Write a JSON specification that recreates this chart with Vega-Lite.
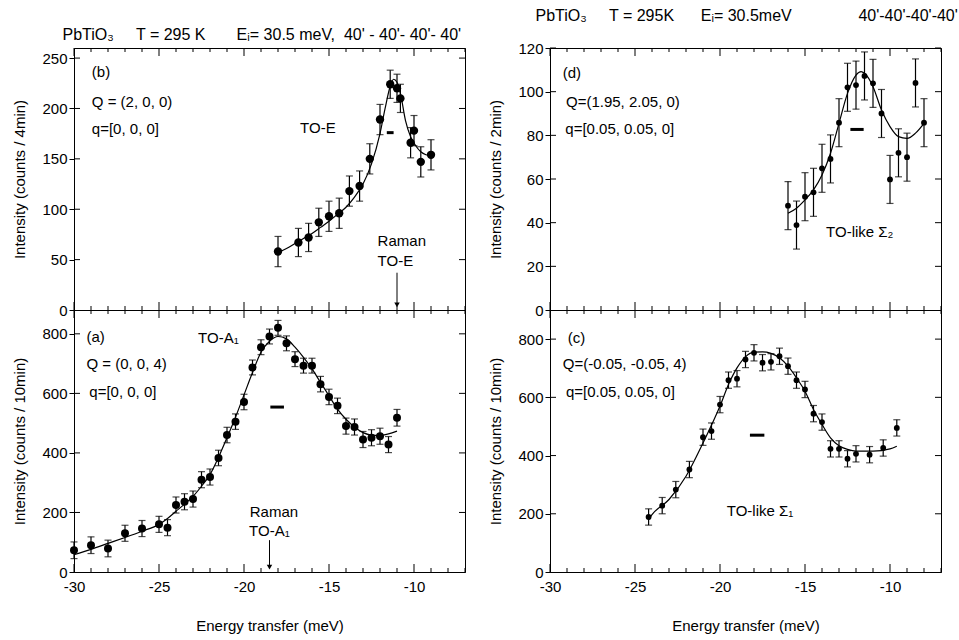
{
  "$schema": "https://vega.github.io/schema/vega-lite/v6.json",
  "background": "white",
  "padding": {"left": 12, "top": 8, "right": 0, "bottom": 0},
  "config": {
    "font": "Liberation Sans",
    "view": {"stroke": "black", "strokeWidth": 1},
    "axis": {"grid": false, "domainColor": "black", "tickColor": "black", "labelColor": "black", "titleColor": "black", "labelFont": "Liberation Sans", "titleFont": "Liberation Sans", "labelFontSize": 15, "titleFontSize": 15, "titleFontWeight": "normal", "domainWidth": 1, "tickWidth": 1, "labelFlush": false},
    "title": {"font": "Liberation Sans", "fontSize": 16, "fontWeight": "normal", "color": "black"},
    "text": {"font": "Liberation Sans", "fontSize": 15, "color": "black"}
  },
  "datasets": {
    "b_pts": [
      {"E": -18.0, "I": 58, "err": 15}, {"E": -16.8, "I": 67, "err": 14}, {"E": -16.2, "I": 72, "err": 14},
      {"E": -15.6, "I": 87, "err": 14}, {"E": -15.0, "I": 93, "err": 15}, {"E": -14.4, "I": 96, "err": 15},
      {"E": -13.8, "I": 118, "err": 15}, {"E": -13.2, "I": 123, "err": 15}, {"E": -12.6, "I": 150, "err": 15},
      {"E": -12.0, "I": 189, "err": 15}, {"E": -11.4, "I": 224, "err": 14}, {"E": -11.0, "I": 220, "err": 14},
      {"E": -10.8, "I": 210, "err": 14}, {"E": -10.2, "I": 166, "err": 15}, {"E": -10.0, "I": 178, "err": 15},
      {"E": -9.6, "I": 147, "err": 15}, {"E": -9.0, "I": 154, "err": 15}
    ],
    "b_fit": [
      {"E": -18.0, "I": 57}, {"E": -17.5, "I": 61}, {"E": -17.0, "I": 66}, {"E": -16.5, "I": 71}, {"E": -16.0, "I": 76},
      {"E": -15.5, "I": 82}, {"E": -15.0, "I": 88}, {"E": -14.5, "I": 95}, {"E": -14.0, "I": 102}, {"E": -13.5, "I": 112},
      {"E": -13.0, "I": 125}, {"E": -12.5, "I": 145}, {"E": -12.0, "I": 175}, {"E": -11.7, "I": 200}, {"E": -11.4, "I": 222},
      {"E": -11.2, "I": 229}, {"E": -11.0, "I": 226}, {"E": -10.8, "I": 215}, {"E": -10.5, "I": 188}, {"E": -10.2, "I": 172},
      {"E": -9.9, "I": 163}, {"E": -9.6, "I": 157}, {"E": -9.3, "I": 154}, {"E": -9.0, "I": 153}
    ],
    "a_pts": [
      {"E": -30.0, "I": 73, "err": 28}, {"E": -29.0, "I": 90, "err": 28}, {"E": -28.0, "I": 79, "err": 28},
      {"E": -27.0, "I": 130, "err": 27}, {"E": -26.0, "I": 146, "err": 27}, {"E": -25.0, "I": 160, "err": 27},
      {"E": -24.5, "I": 149, "err": 27}, {"E": -24.0, "I": 225, "err": 27}, {"E": -23.5, "I": 236, "err": 27},
      {"E": -23.0, "I": 245, "err": 27}, {"E": -22.5, "I": 310, "err": 27}, {"E": -22.0, "I": 319, "err": 27},
      {"E": -21.5, "I": 383, "err": 26}, {"E": -21.0, "I": 460, "err": 26}, {"E": -20.5, "I": 505, "err": 26},
      {"E": -20.0, "I": 571, "err": 26}, {"E": -19.5, "I": 687, "err": 25}, {"E": -19.0, "I": 755, "err": 25},
      {"E": -18.5, "I": 791, "err": 25}, {"E": -18.0, "I": 820, "err": 25}, {"E": -17.5, "I": 768, "err": 25},
      {"E": -17.0, "I": 715, "err": 25}, {"E": -16.5, "I": 693, "err": 25}, {"E": -16.0, "I": 693, "err": 25},
      {"E": -15.5, "I": 631, "err": 26}, {"E": -15.0, "I": 588, "err": 26}, {"E": -14.5, "I": 558, "err": 26},
      {"E": -14.0, "I": 490, "err": 27}, {"E": -13.5, "I": 487, "err": 27}, {"E": -13.0, "I": 445, "err": 27},
      {"E": -12.5, "I": 451, "err": 27}, {"E": -12.0, "I": 456, "err": 27}, {"E": -11.5, "I": 428, "err": 27},
      {"E": -11.0, "I": 518, "err": 28}
    ],
    "a_fit": [
      {"E": -30, "I": 58}, {"E": -29, "I": 76}, {"E": -28, "I": 96}, {"E": -27, "I": 116}, {"E": -26, "I": 137},
      {"E": -25, "I": 160}, {"E": -24.5, "I": 180}, {"E": -24, "I": 204}, {"E": -23.5, "I": 228}, {"E": -23, "I": 254},
      {"E": -22.5, "I": 288}, {"E": -22, "I": 327}, {"E": -21.5, "I": 385}, {"E": -21, "I": 451}, {"E": -20.5, "I": 520},
      {"E": -20, "I": 595}, {"E": -19.5, "I": 670}, {"E": -19, "I": 738}, {"E": -18.5, "I": 775}, {"E": -18, "I": 791},
      {"E": -17.5, "I": 783}, {"E": -17, "I": 755}, {"E": -16.5, "I": 721}, {"E": -16, "I": 682}, {"E": -15.5, "I": 637},
      {"E": -15, "I": 592}, {"E": -14.5, "I": 547}, {"E": -14, "I": 513}, {"E": -13.5, "I": 487}, {"E": -13, "I": 468},
      {"E": -12.5, "I": 460}, {"E": -12, "I": 459}, {"E": -11.5, "I": 464}, {"E": -11, "I": 473}
    ],
    "d_pts": [
      {"E": -16.0, "I": 47.8, "err": 11}, {"E": -15.5, "I": 38.9, "err": 11}, {"E": -15.0, "I": 51.9, "err": 11},
      {"E": -14.5, "I": 53.9, "err": 11}, {"E": -14.0, "I": 64.9, "err": 11}, {"E": -13.5, "I": 69.2, "err": 11},
      {"E": -13.0, "I": 85.8, "err": 11}, {"E": -12.5, "I": 102.0, "err": 11}, {"E": -12.0, "I": 103.0, "err": 11},
      {"E": -11.5, "I": 107.2, "err": 11}, {"E": -11.0, "I": 103.8, "err": 11}, {"E": -10.5, "I": 90.0, "err": 11},
      {"E": -10.0, "I": 59.8, "err": 11}, {"E": -9.5, "I": 72.0, "err": 11}, {"E": -9.0, "I": 70.0, "err": 11},
      {"E": -8.5, "I": 104.0, "err": 11}, {"E": -8.0, "I": 85.8, "err": 11}
    ],
    "d_fit": [
      {"E": -16.0, "I": 44.3}, {"E": -15.5, "I": 46.6}, {"E": -15.0, "I": 50.4}, {"E": -14.5, "I": 55.0}, {"E": -14.0, "I": 61.8},
      {"E": -13.5, "I": 71.8}, {"E": -13.0, "I": 85.5}, {"E": -12.5, "I": 99.2}, {"E": -12.0, "I": 107.6}, {"E": -11.7, "I": 109.2},
      {"E": -11.5, "I": 108.4}, {"E": -11.0, "I": 102.3}, {"E": -10.5, "I": 91.6}, {"E": -10.0, "I": 84.0}, {"E": -9.5, "I": 79.4},
      {"E": -9.0, "I": 78.6}, {"E": -8.5, "I": 81.0}, {"E": -8.0, "I": 85.5}
    ],
    "c_pts": [
      {"E": -24.2, "I": 189, "err": 28}, {"E": -23.4, "I": 228, "err": 28}, {"E": -22.6, "I": 283, "err": 28},
      {"E": -21.8, "I": 352, "err": 28}, {"E": -21.0, "I": 463, "err": 28}, {"E": -20.5, "I": 484, "err": 28},
      {"E": -20.0, "I": 575, "err": 28}, {"E": -19.5, "I": 659, "err": 28}, {"E": -19.0, "I": 664, "err": 28},
      {"E": -18.5, "I": 730, "err": 28}, {"E": -18.0, "I": 753, "err": 28}, {"E": -17.5, "I": 719, "err": 28},
      {"E": -17.0, "I": 722, "err": 28}, {"E": -16.5, "I": 741, "err": 28}, {"E": -16.0, "I": 707, "err": 28},
      {"E": -15.5, "I": 659, "err": 28}, {"E": -15.0, "I": 627, "err": 28}, {"E": -14.5, "I": 544, "err": 28},
      {"E": -14.0, "I": 515, "err": 28}, {"E": -13.5, "I": 423, "err": 28}, {"E": -13.0, "I": 423, "err": 28},
      {"E": -12.5, "I": 389, "err": 28}, {"E": -12.0, "I": 406, "err": 28}, {"E": -11.2, "I": 403, "err": 28},
      {"E": -10.4, "I": 426, "err": 28}, {"E": -9.6, "I": 495, "err": 28}
    ],
    "c_fit": [
      {"E": -24.2, "I": 180}, {"E": -24.0, "I": 197}, {"E": -23.0, "I": 249}, {"E": -22.0, "I": 329}, {"E": -21.0, "I": 443},
      {"E": -20.0, "I": 570}, {"E": -19.5, "I": 644}, {"E": -19.0, "I": 701}, {"E": -18.5, "I": 739}, {"E": -18.0, "I": 755},
      {"E": -17.5, "I": 756}, {"E": -17.0, "I": 751}, {"E": -16.5, "I": 736}, {"E": -16.0, "I": 707}, {"E": -15.5, "I": 667},
      {"E": -15.0, "I": 621}, {"E": -14.5, "I": 558}, {"E": -14.0, "I": 507}, {"E": -13.5, "I": 461}, {"E": -13.0, "I": 434},
      {"E": -12.5, "I": 421}, {"E": -12.0, "I": 415}, {"E": -11.0, "I": 415}, {"E": -10.0, "I": 423}, {"E": -9.6, "I": 432}
    ],
    "res": [
      {"panel": "b", "x1": -11.6, "x2": -11.2, "I": 176},
      {"panel": "a", "x1": -18.45, "x2": -17.65, "I": 554},
      {"panel": "d", "x1": -12.33, "x2": -11.55, "I": 82.7},
      {"panel": "c", "x1": -18.24, "x2": -17.39, "I": 470}
    ],
    "notes": [
      {"panel": "b", "E": -28.95, "I": 236, "label": "(b)"},
      {"panel": "b", "E": -28.95, "I": 206, "label": "Q = (2, 0, 0)"},
      {"panel": "b", "E": -28.95, "I": 180, "label": "q=[0, 0, 0]"},
      {"panel": "b", "E": -16.7, "I": 181, "label": "TO-E"},
      {"panel": "b", "E": -12.14, "I": 68, "label": "Raman"},
      {"panel": "b", "E": -12.14, "I": 49, "label": "TO-E"},
      {"panel": "a", "E": -29.27, "I": 789, "label": "(a)"},
      {"panel": "a", "E": -22.7, "I": 786, "label": "TO-A\u2081"},
      {"panel": "a", "E": -29.27, "I": 698, "label": "Q = (0, 0, 4)"},
      {"panel": "a", "E": -29.1, "I": 603, "label": "q=[0, 0, 0]"},
      {"panel": "a", "E": -19.66, "I": 200, "label": "Raman"},
      {"panel": "a", "E": -19.7, "I": 139, "label": "TO-A\u2081"},
      {"panel": "d", "E": -29.25, "I": 108.4, "label": "(d)"},
      {"panel": "d", "E": -29.06, "I": 95.4, "label": "Q=(1.95, 2.05, 0)"},
      {"panel": "d", "E": -29.1, "I": 82.7, "label": "q=[0.05, 0.05, 0]"},
      {"panel": "d", "E": -13.76, "I": 35.9, "label": "TO-like \u03a3\u2082"},
      {"panel": "c", "E": -28.96, "I": 804, "label": "(c)"},
      {"panel": "c", "E": -29.25, "I": 713, "label": "Q=(-0.05, -0.05, 4)"},
      {"panel": "c", "E": -29.06, "I": 619, "label": "q=[0.05, 0.05, 0]"},
      {"panel": "c", "E": -19.6, "I": 209, "label": "TO-like \u03a3\u2081"}
    ],
    "arrows": [
      {"panel": "b", "E": -11.0, "top": 37, "tip": 5},
      {"panel": "a", "E": -18.5, "top": 107, "tip": 16}
    ],
    "xticks": [
      {"E": -30}, {"E": -29}, {"E": -28}, {"E": -27}, {"E": -26}, {"E": -25}, {"E": -24}, {"E": -23},
      {"E": -22}, {"E": -21}, {"E": -20}, {"E": -19}, {"E": -18}, {"E": -17}, {"E": -16}, {"E": -15},
      {"E": -14}, {"E": -13}, {"E": -12}, {"E": -11}, {"E": -10}, {"E": -9}, {"E": -8}, {"E": -7}
    ],
    "yticks": [
      {"panel": "b", "I": 50}, {"panel": "b", "I": 100}, {"panel": "b", "I": 150}, {"panel": "b", "I": 200}, {"panel": "b", "I": 250},
      {"panel": "a", "I": 200}, {"panel": "a", "I": 400}, {"panel": "a", "I": 600}, {"panel": "a", "I": 800},
      {"panel": "d", "I": 20}, {"panel": "d", "I": 40}, {"panel": "d", "I": 60}, {"panel": "d", "I": 80}, {"panel": "d", "I": 100}, {"panel": "d", "I": 120},
      {"panel": "c", "I": 200}, {"panel": "c", "I": 400}, {"panel": "c", "I": 600}, {"panel": "c", "I": 800}
    ]
  },
  "spacing": 22,
  "hconcat": [
    {
      "title": {"text": ["\u00a0", "PbTiO\u2083\u00a0\u00a0\u00a0\u00a0\u00a0T = 295 K\u00a0\u00a0\u00a0\u00a0\u00a0\u00a0\u00a0E\u1d62= 30.5 meV,\u00a0\u00a040' - 40'- 40'- 40'"], "anchor": "start", "frame": "bounds", "dx": 50, "offset": 5, "lineHeight": 11.4},
      "spacing": 0,
      "bounds": "flush",
      "vconcat": [
        {
          "width": 391, "height": 262,
          "layer": [
            {"data": {"name": "xticks"}, "transform": [{"filter": "datum.E % 5 === 0"}], "mark": {"type": "tick", "orient": "vertical", "size": 8, "thickness": 1, "color": "black", "opacity": 1, "yOffset": -4},
             "encoding": {"x": {"field": "E", "type": "quantitative", "scale": {"domain": [-30, -7], "nice": false, "zero": false}, "axis": null},
                          "y": {"datum": 0, "type": "quantitative", "title": "Intensity (counts / 4min)", "scale": {"domain": [0, 260], "nice": false, "zero": false}}}},
            {"data": {"name": "xticks"}, "transform": [{"filter": "datum.E % 5 !== 0"}], "mark": {"type": "tick", "orient": "vertical", "size": 4, "thickness": 1, "color": "black", "opacity": 1, "yOffset": -2},
             "encoding": {"x": {"field": "E", "type": "quantitative", "scale": {"domain": [-30, -7], "nice": false, "zero": false}, "axis": null},
                          "y": {"datum": 0, "type": "quantitative", "title": "Intensity (counts / 4min)", "scale": {"domain": [0, 260], "nice": false, "zero": false}}}},
            {"data": {"name": "xticks"}, "transform": [{"filter": "datum.E % 5 === 0"}], "mark": {"type": "tick", "orient": "vertical", "size": 8, "thickness": 1, "color": "black", "opacity": 1, "yOffset": 4},
             "encoding": {"x": {"field": "E", "type": "quantitative", "scale": {"domain": [-30, -7], "nice": false, "zero": false}, "axis": null},
                          "y": {"datum": 260, "type": "quantitative", "title": "Intensity (counts / 4min)", "scale": {"domain": [0, 260], "nice": false, "zero": false}}}},
            {"data": {"name": "xticks"}, "transform": [{"filter": "datum.E % 5 !== 0"}], "mark": {"type": "tick", "orient": "vertical", "size": 4, "thickness": 1, "color": "black", "opacity": 1, "yOffset": 2},
             "encoding": {"x": {"field": "E", "type": "quantitative", "scale": {"domain": [-30, -7], "nice": false, "zero": false}, "axis": null},
                          "y": {"datum": 260, "type": "quantitative", "title": "Intensity (counts / 4min)", "scale": {"domain": [0, 260], "nice": false, "zero": false}}}},
            {"data": {"name": "yticks"}, "transform": [{"filter": "datum.panel === 'b'"}], "mark": {"type": "tick", "orient": "horizontal", "size": 6, "thickness": 1, "color": "black", "opacity": 1, "xOffset": -3},
             "encoding": {"x": {"datum": -7, "type": "quantitative", "scale": {"domain": [-30, -7], "nice": false, "zero": false}, "axis": null},
                          "y": {"field": "I", "type": "quantitative", "title": "Intensity (counts / 4min)", "scale": {"domain": [0, 260], "nice": false, "zero": false}}}},
            {"data": {"name": "yticks"}, "transform": [{"filter": "datum.panel === 'b'"}], "mark": {"type": "tick", "orient": "horizontal", "size": 6, "thickness": 1, "color": "black", "opacity": 1, "xOffset": 3},
             "encoding": {"x": {"datum": -30, "type": "quantitative", "scale": {"domain": [-30, -7], "nice": false, "zero": false}, "axis": null},
                          "y": {"field": "I", "type": "quantitative", "title": "Intensity (counts / 4min)", "scale": {"domain": [0, 260], "nice": false, "zero": false}}}},
            {"data": {"name": "b_pts"}, "mark": {"type": "circle", "size": 70, "color": "black", "opacity": 1},
             "encoding": {"x": {"field": "E", "type": "quantitative", "scale": {"domain": [-30, -7], "nice": false, "zero": false}, "axis": null},
                          "y": {"field": "I", "type": "quantitative", "title": "Intensity (counts / 4min)", "scale": {"domain": [0, 260], "nice": false, "zero": false},
                                "axis": {"orient": "left", "values": [0, 50, 100, 150, 200, 250], "title": "Intensity (counts / 4min)", "tickSize": 5, "labelPadding": 2, "titlePadding": 14}}}},
            {"data": {"name": "b_pts"}, "mark": {"type": "errorbar", "ticks": {"size": 7}, "color": "black", "thickness": 1.2},
             "encoding": {"x": {"field": "E", "type": "quantitative", "axis": null},
                          "y": {"field": "I", "type": "quantitative", "title": "Intensity (counts / 4min)"},
                          "yError": {"field": "err"}}},
            {"data": {"name": "b_fit"}, "mark": {"type": "line", "color": "black", "strokeWidth": 1.2, "interpolate": "monotone"},
             "encoding": {"x": {"field": "E", "type": "quantitative", "axis": null},
                          "y": {"field": "I", "type": "quantitative", "title": "Intensity (counts / 4min)"}}},
            {"data": {"name": "res"}, "transform": [{"filter": "datum.panel === 'b'"}], "mark": {"type": "rule", "color": "black", "strokeWidth": 3},
             "encoding": {"x": {"field": "x1", "type": "quantitative", "axis": null},
                          "x2": {"field": "x2"},
                          "y": {"field": "I", "type": "quantitative", "title": "Intensity (counts / 4min)"}}},
            {"data": {"name": "notes"}, "transform": [{"filter": "datum.panel === 'b'"}], "mark": {"type": "text", "align": "left", "baseline": "middle", "fontSize": 15},
             "encoding": {"x": {"field": "E", "type": "quantitative", "axis": null},
                          "y": {"field": "I", "type": "quantitative", "title": "Intensity (counts / 4min)"},
                          "text": {"field": "label"}}},
            {"data": {"name": "arrows"}, "transform": [{"filter": "datum.panel === 'b'"}], "mark": {"type": "rule", "color": "black", "strokeWidth": 1},
             "encoding": {"x": {"field": "E", "type": "quantitative", "axis": null},
                          "y": {"field": "top", "type": "quantitative", "title": "Intensity (counts / 4min)"},
                          "y2": {"field": "tip"}}},
            {"data": {"name": "arrows"}, "transform": [{"filter": "datum.panel === 'b'"}], "mark": {"type": "point", "shape": "triangle-down", "filled": true, "size": 30, "color": "black", "opacity": 1},
             "encoding": {"x": {"field": "E", "type": "quantitative", "axis": null},
                          "y": {"field": "tip", "type": "quantitative", "title": "Intensity (counts / 4min)"}}}
          ]
        },
        {
          "width": 391, "height": 262,
          "layer": [
            {"data": {"name": "xticks"}, "transform": [{"filter": "datum.E % 5 === 0"}], "mark": {"type": "tick", "orient": "vertical", "size": 8, "thickness": 1, "color": "black", "opacity": 1, "yOffset": -4},
             "encoding": {"x": {"field": "E", "type": "quantitative", "title": "Energy transfer (meV)", "scale": {"domain": [-30, -7], "nice": false, "zero": false}},
                          "y": {"datum": 0, "type": "quantitative", "title": "Intensity (counts / 10min)", "scale": {"domain": [0, 880], "nice": false, "zero": false}}}},
            {"data": {"name": "xticks"}, "transform": [{"filter": "datum.E % 5 !== 0"}], "mark": {"type": "tick", "orient": "vertical", "size": 4, "thickness": 1, "color": "black", "opacity": 1, "yOffset": -2},
             "encoding": {"x": {"field": "E", "type": "quantitative", "title": "Energy transfer (meV)", "scale": {"domain": [-30, -7], "nice": false, "zero": false}},
                          "y": {"datum": 0, "type": "quantitative", "title": "Intensity (counts / 10min)", "scale": {"domain": [0, 880], "nice": false, "zero": false}}}},
            {"data": {"name": "xticks"}, "transform": [{"filter": "datum.E % 5 === 0"}], "mark": {"type": "tick", "orient": "vertical", "size": 8, "thickness": 1, "color": "black", "opacity": 1, "yOffset": 4},
             "encoding": {"x": {"field": "E", "type": "quantitative", "title": "Energy transfer (meV)", "scale": {"domain": [-30, -7], "nice": false, "zero": false}},
                          "y": {"datum": 880, "type": "quantitative", "title": "Intensity (counts / 10min)", "scale": {"domain": [0, 880], "nice": false, "zero": false}}}},
            {"data": {"name": "xticks"}, "transform": [{"filter": "datum.E % 5 !== 0"}], "mark": {"type": "tick", "orient": "vertical", "size": 4, "thickness": 1, "color": "black", "opacity": 1, "yOffset": 2},
             "encoding": {"x": {"field": "E", "type": "quantitative", "title": "Energy transfer (meV)", "scale": {"domain": [-30, -7], "nice": false, "zero": false}},
                          "y": {"datum": 880, "type": "quantitative", "title": "Intensity (counts / 10min)", "scale": {"domain": [0, 880], "nice": false, "zero": false}}}},
            {"data": {"name": "yticks"}, "transform": [{"filter": "datum.panel === 'a'"}], "mark": {"type": "tick", "orient": "horizontal", "size": 6, "thickness": 1, "color": "black", "opacity": 1, "xOffset": -3},
             "encoding": {"x": {"datum": -7, "type": "quantitative", "title": "Energy transfer (meV)", "scale": {"domain": [-30, -7], "nice": false, "zero": false}},
                          "y": {"field": "I", "type": "quantitative", "title": "Intensity (counts / 10min)", "scale": {"domain": [0, 880], "nice": false, "zero": false}}}},
            {"data": {"name": "yticks"}, "transform": [{"filter": "datum.panel === 'a'"}], "mark": {"type": "tick", "orient": "horizontal", "size": 6, "thickness": 1, "color": "black", "opacity": 1, "xOffset": 3},
             "encoding": {"x": {"datum": -30, "type": "quantitative", "title": "Energy transfer (meV)", "scale": {"domain": [-30, -7], "nice": false, "zero": false}},
                          "y": {"field": "I", "type": "quantitative", "title": "Intensity (counts / 10min)", "scale": {"domain": [0, 880], "nice": false, "zero": false}}}},
            {"data": {"name": "a_pts"}, "mark": {"type": "circle", "size": 64, "color": "black", "opacity": 1},
             "encoding": {"x": {"field": "E", "type": "quantitative", "title": "Energy transfer (meV)", "scale": {"domain": [-30, -7], "nice": false, "zero": false},
                                "axis": {"orient": "bottom", "values": [-30, -25, -20, -15, -10], "ticks": false, "labelPadding": 7, "labelExpr": "toString(datum.value)", "title": "Energy transfer (meV)", "titlePadding": 24}},
                          "y": {"field": "I", "type": "quantitative", "title": "Intensity (counts / 10min)", "scale": {"domain": [0, 880], "nice": false, "zero": false},
                                "axis": {"orient": "left", "values": [0, 200, 400, 600, 800], "title": "Intensity (counts / 10min)", "tickSize": 5, "labelPadding": 2, "titlePadding": 14}}}},
            {"data": {"name": "a_pts"}, "mark": {"type": "errorbar", "ticks": {"size": 7}, "color": "black", "thickness": 1.2},
             "encoding": {"x": {"field": "E", "type": "quantitative", "title": "Energy transfer (meV)"},
                          "y": {"field": "I", "type": "quantitative", "title": "Intensity (counts / 10min)"},
                          "yError": {"field": "err"}}},
            {"data": {"name": "a_fit"}, "mark": {"type": "line", "color": "black", "strokeWidth": 1.2, "interpolate": "monotone"},
             "encoding": {"x": {"field": "E", "type": "quantitative", "title": "Energy transfer (meV)"},
                          "y": {"field": "I", "type": "quantitative", "title": "Intensity (counts / 10min)"}}},
            {"data": {"name": "res"}, "transform": [{"filter": "datum.panel === 'a'"}], "mark": {"type": "rule", "color": "black", "strokeWidth": 3},
             "encoding": {"x": {"field": "x1", "type": "quantitative", "title": "Energy transfer (meV)"},
                          "x2": {"field": "x2"},
                          "y": {"field": "I", "type": "quantitative", "title": "Intensity (counts / 10min)"}}},
            {"data": {"name": "notes"}, "transform": [{"filter": "datum.panel === 'a'"}], "mark": {"type": "text", "align": "left", "baseline": "middle", "fontSize": 15},
             "encoding": {"x": {"field": "E", "type": "quantitative", "title": "Energy transfer (meV)"},
                          "y": {"field": "I", "type": "quantitative", "title": "Intensity (counts / 10min)"},
                          "text": {"field": "label"}}},
            {"data": {"name": "arrows"}, "transform": [{"filter": "datum.panel === 'a'"}], "mark": {"type": "rule", "color": "black", "strokeWidth": 1},
             "encoding": {"x": {"field": "E", "type": "quantitative", "title": "Energy transfer (meV)"},
                          "y": {"field": "top", "type": "quantitative", "title": "Intensity (counts / 10min)"},
                          "y2": {"field": "tip"}}},
            {"data": {"name": "arrows"}, "transform": [{"filter": "datum.panel === 'a'"}], "mark": {"type": "point", "shape": "triangle-down", "filled": true, "size": 30, "color": "black", "opacity": 1},
             "encoding": {"x": {"field": "E", "type": "quantitative", "title": "Energy transfer (meV)"},
                          "y": {"field": "tip", "type": "quantitative", "title": "Intensity (counts / 10min)"}}}
          ]
        }
      ]
    },
    {
      "title": {"text": "PbTiO\u2083\u00a0\u00a0\u00a0\u00a0\u00a0T = 295K\u00a0\u00a0\u00a0\u00a0\u00a0\u00a0E\u1d62= 30.5meV\u00a0\u00a0\u00a0\u00a0\u00a0\u00a0\u00a0\u00a0\u00a0\u00a0\u00a0\u00a0\u00a0\u00a0\u00a040'-40'-40'-40'", "anchor": "start", "frame": "bounds", "dx": 47, "offset": 16.5},
      "spacing": 0,
      "bounds": "flush",
      "vconcat": [
        {
          "width": 391, "height": 262,
          "layer": [
            {"data": {"name": "xticks"}, "transform": [{"filter": "datum.E % 5 === 0"}], "mark": {"type": "tick", "orient": "vertical", "size": 8, "thickness": 1, "color": "black", "opacity": 1, "yOffset": -4},
             "encoding": {"x": {"field": "E", "type": "quantitative", "scale": {"domain": [-30, -7], "nice": false, "zero": false}, "axis": null},
                          "y": {"datum": 0, "type": "quantitative", "title": "Intensity (counts / 2min)", "scale": {"domain": [0, 120], "nice": false, "zero": false}}}},
            {"data": {"name": "xticks"}, "transform": [{"filter": "datum.E % 5 !== 0"}], "mark": {"type": "tick", "orient": "vertical", "size": 4, "thickness": 1, "color": "black", "opacity": 1, "yOffset": -2},
             "encoding": {"x": {"field": "E", "type": "quantitative", "scale": {"domain": [-30, -7], "nice": false, "zero": false}, "axis": null},
                          "y": {"datum": 0, "type": "quantitative", "title": "Intensity (counts / 2min)", "scale": {"domain": [0, 120], "nice": false, "zero": false}}}},
            {"data": {"name": "xticks"}, "transform": [{"filter": "datum.E % 5 === 0"}], "mark": {"type": "tick", "orient": "vertical", "size": 8, "thickness": 1, "color": "black", "opacity": 1, "yOffset": 4},
             "encoding": {"x": {"field": "E", "type": "quantitative", "scale": {"domain": [-30, -7], "nice": false, "zero": false}, "axis": null},
                          "y": {"datum": 120, "type": "quantitative", "title": "Intensity (counts / 2min)", "scale": {"domain": [0, 120], "nice": false, "zero": false}}}},
            {"data": {"name": "xticks"}, "transform": [{"filter": "datum.E % 5 !== 0"}], "mark": {"type": "tick", "orient": "vertical", "size": 4, "thickness": 1, "color": "black", "opacity": 1, "yOffset": 2},
             "encoding": {"x": {"field": "E", "type": "quantitative", "scale": {"domain": [-30, -7], "nice": false, "zero": false}, "axis": null},
                          "y": {"datum": 120, "type": "quantitative", "title": "Intensity (counts / 2min)", "scale": {"domain": [0, 120], "nice": false, "zero": false}}}},
            {"data": {"name": "yticks"}, "transform": [{"filter": "datum.panel === 'd'"}], "mark": {"type": "tick", "orient": "horizontal", "size": 6, "thickness": 1, "color": "black", "opacity": 1, "xOffset": -3},
             "encoding": {"x": {"datum": -7, "type": "quantitative", "scale": {"domain": [-30, -7], "nice": false, "zero": false}, "axis": null},
                          "y": {"field": "I", "type": "quantitative", "title": "Intensity (counts / 2min)", "scale": {"domain": [0, 120], "nice": false, "zero": false}}}},
            {"data": {"name": "yticks"}, "transform": [{"filter": "datum.panel === 'd'"}], "mark": {"type": "tick", "orient": "horizontal", "size": 6, "thickness": 1, "color": "black", "opacity": 1, "xOffset": 3},
             "encoding": {"x": {"datum": -30, "type": "quantitative", "scale": {"domain": [-30, -7], "nice": false, "zero": false}, "axis": null},
                          "y": {"field": "I", "type": "quantitative", "title": "Intensity (counts / 2min)", "scale": {"domain": [0, 120], "nice": false, "zero": false}}}},
            {"data": {"name": "d_pts"}, "mark": {"type": "circle", "size": 34, "color": "black", "opacity": 1},
             "encoding": {"x": {"field": "E", "type": "quantitative", "scale": {"domain": [-30, -7], "nice": false, "zero": false}, "axis": null},
                          "y": {"field": "I", "type": "quantitative", "title": "Intensity (counts / 2min)", "scale": {"domain": [0, 120], "nice": false, "zero": false},
                                "axis": {"orient": "left", "values": [0, 20, 40, 60, 80, 100, 120], "title": "Intensity (counts / 2min)", "tickSize": 5, "labelPadding": 2, "titlePadding": 14}}}},
            {"data": {"name": "d_pts"}, "mark": {"type": "errorbar", "ticks": {"size": 7}, "color": "black", "thickness": 1.2},
             "encoding": {"x": {"field": "E", "type": "quantitative", "axis": null},
                          "y": {"field": "I", "type": "quantitative", "title": "Intensity (counts / 2min)"},
                          "yError": {"field": "err"}}},
            {"data": {"name": "d_fit"}, "mark": {"type": "line", "color": "black", "strokeWidth": 1.2, "interpolate": "monotone"},
             "encoding": {"x": {"field": "E", "type": "quantitative", "axis": null},
                          "y": {"field": "I", "type": "quantitative", "title": "Intensity (counts / 2min)"}}},
            {"data": {"name": "res"}, "transform": [{"filter": "datum.panel === 'd'"}], "mark": {"type": "rule", "color": "black", "strokeWidth": 3},
             "encoding": {"x": {"field": "x1", "type": "quantitative", "axis": null},
                          "x2": {"field": "x2"},
                          "y": {"field": "I", "type": "quantitative", "title": "Intensity (counts / 2min)"}}},
            {"data": {"name": "notes"}, "transform": [{"filter": "datum.panel === 'd'"}], "mark": {"type": "text", "align": "left", "baseline": "middle", "fontSize": 15},
             "encoding": {"x": {"field": "E", "type": "quantitative", "axis": null},
                          "y": {"field": "I", "type": "quantitative", "title": "Intensity (counts / 2min)"},
                          "text": {"field": "label"}}}
          ]
        },
        {
          "width": 391, "height": 262,
          "layer": [
            {"data": {"name": "xticks"}, "transform": [{"filter": "datum.E % 5 === 0"}], "mark": {"type": "tick", "orient": "vertical", "size": 8, "thickness": 1, "color": "black", "opacity": 1, "yOffset": -4},
             "encoding": {"x": {"field": "E", "type": "quantitative", "title": "Energy transfer (meV)", "scale": {"domain": [-30, -7], "nice": false, "zero": false}},
                          "y": {"datum": 0, "type": "quantitative", "title": "Intensity (counts / 10min)", "scale": {"domain": [0, 900], "nice": false, "zero": false}}}},
            {"data": {"name": "xticks"}, "transform": [{"filter": "datum.E % 5 !== 0"}], "mark": {"type": "tick", "orient": "vertical", "size": 4, "thickness": 1, "color": "black", "opacity": 1, "yOffset": -2},
             "encoding": {"x": {"field": "E", "type": "quantitative", "title": "Energy transfer (meV)", "scale": {"domain": [-30, -7], "nice": false, "zero": false}},
                          "y": {"datum": 0, "type": "quantitative", "title": "Intensity (counts / 10min)", "scale": {"domain": [0, 900], "nice": false, "zero": false}}}},
            {"data": {"name": "xticks"}, "transform": [{"filter": "datum.E % 5 === 0"}], "mark": {"type": "tick", "orient": "vertical", "size": 8, "thickness": 1, "color": "black", "opacity": 1, "yOffset": 4},
             "encoding": {"x": {"field": "E", "type": "quantitative", "title": "Energy transfer (meV)", "scale": {"domain": [-30, -7], "nice": false, "zero": false}},
                          "y": {"datum": 900, "type": "quantitative", "title": "Intensity (counts / 10min)", "scale": {"domain": [0, 900], "nice": false, "zero": false}}}},
            {"data": {"name": "xticks"}, "transform": [{"filter": "datum.E % 5 !== 0"}], "mark": {"type": "tick", "orient": "vertical", "size": 4, "thickness": 1, "color": "black", "opacity": 1, "yOffset": 2},
             "encoding": {"x": {"field": "E", "type": "quantitative", "title": "Energy transfer (meV)", "scale": {"domain": [-30, -7], "nice": false, "zero": false}},
                          "y": {"datum": 900, "type": "quantitative", "title": "Intensity (counts / 10min)", "scale": {"domain": [0, 900], "nice": false, "zero": false}}}},
            {"data": {"name": "yticks"}, "transform": [{"filter": "datum.panel === 'c'"}], "mark": {"type": "tick", "orient": "horizontal", "size": 6, "thickness": 1, "color": "black", "opacity": 1, "xOffset": -3},
             "encoding": {"x": {"datum": -7, "type": "quantitative", "title": "Energy transfer (meV)", "scale": {"domain": [-30, -7], "nice": false, "zero": false}},
                          "y": {"field": "I", "type": "quantitative", "title": "Intensity (counts / 10min)", "scale": {"domain": [0, 900], "nice": false, "zero": false}}}},
            {"data": {"name": "yticks"}, "transform": [{"filter": "datum.panel === 'c'"}], "mark": {"type": "tick", "orient": "horizontal", "size": 6, "thickness": 1, "color": "black", "opacity": 1, "xOffset": 3},
             "encoding": {"x": {"datum": -30, "type": "quantitative", "title": "Energy transfer (meV)", "scale": {"domain": [-30, -7], "nice": false, "zero": false}},
                          "y": {"field": "I", "type": "quantitative", "title": "Intensity (counts / 10min)", "scale": {"domain": [0, 900], "nice": false, "zero": false}}}},
            {"data": {"name": "c_pts"}, "mark": {"type": "circle", "size": 34, "color": "black", "opacity": 1},
             "encoding": {"x": {"field": "E", "type": "quantitative", "title": "Energy transfer (meV)", "scale": {"domain": [-30, -7], "nice": false, "zero": false},
                                "axis": {"orient": "bottom", "values": [-30, -25, -20, -15, -10], "ticks": false, "labelPadding": 7, "labelExpr": "toString(datum.value)", "title": "Energy transfer (meV)", "titlePadding": 24}},
                          "y": {"field": "I", "type": "quantitative", "title": "Intensity (counts / 10min)", "scale": {"domain": [0, 900], "nice": false, "zero": false},
                                "axis": {"orient": "left", "values": [0, 200, 400, 600, 800], "title": "Intensity (counts / 10min)", "tickSize": 5, "labelPadding": 2, "titlePadding": 14}}}},
            {"data": {"name": "c_pts"}, "mark": {"type": "errorbar", "ticks": {"size": 7}, "color": "black", "thickness": 1.2},
             "encoding": {"x": {"field": "E", "type": "quantitative", "title": "Energy transfer (meV)"},
                          "y": {"field": "I", "type": "quantitative", "title": "Intensity (counts / 10min)"},
                          "yError": {"field": "err"}}},
            {"data": {"name": "c_fit"}, "mark": {"type": "line", "color": "black", "strokeWidth": 1.2, "interpolate": "monotone"},
             "encoding": {"x": {"field": "E", "type": "quantitative", "title": "Energy transfer (meV)"},
                          "y": {"field": "I", "type": "quantitative", "title": "Intensity (counts / 10min)"}}},
            {"data": {"name": "res"}, "transform": [{"filter": "datum.panel === 'c'"}], "mark": {"type": "rule", "color": "black", "strokeWidth": 3},
             "encoding": {"x": {"field": "x1", "type": "quantitative", "title": "Energy transfer (meV)"},
                          "x2": {"field": "x2"},
                          "y": {"field": "I", "type": "quantitative", "title": "Intensity (counts / 10min)"}}},
            {"data": {"name": "notes"}, "transform": [{"filter": "datum.panel === 'c'"}], "mark": {"type": "text", "align": "left", "baseline": "middle", "fontSize": 15},
             "encoding": {"x": {"field": "E", "type": "quantitative", "title": "Energy transfer (meV)"},
                          "y": {"field": "I", "type": "quantitative", "title": "Intensity (counts / 10min)"},
                          "text": {"field": "label"}}}
          ]
        }
      ]
    }
  ]
}
